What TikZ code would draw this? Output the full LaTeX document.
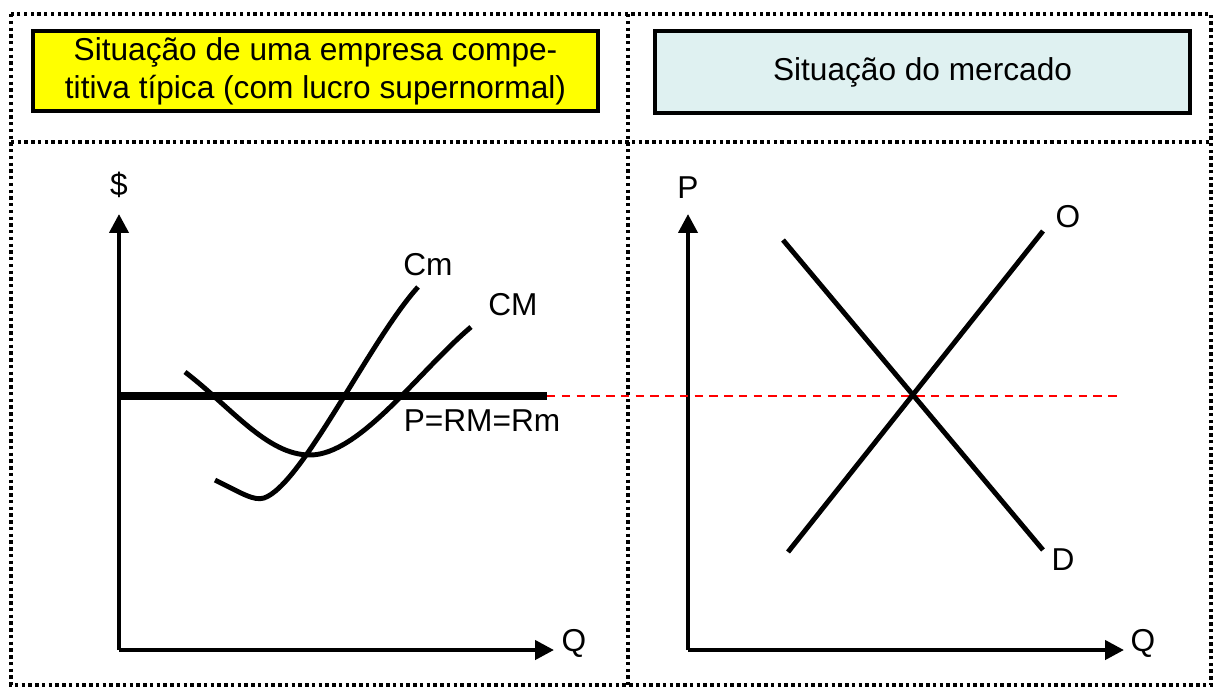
\documentclass[tikz,border=0pt]{standalone}
\usepackage{fontspec}
\setmainfont{Liberation Sans}
\usepackage{xcolor}
\usetikzlibrary{arrows.meta}

\definecolor{boxyellow}{RGB}{255,255,0}
\definecolor{boxcyan}{RGB}{223,241,241}

\begin{document}
\begin{tikzpicture}[x=0.025cm,y=-0.025cm,
    font=\fontsize{22.5}{27}\selectfont,
    panel/.style={line width=2.5pt,dash pattern=on 2.4pt off 2.4pt},
    titlebox/.style={draw,line width=3pt,align=center,inner sep=0pt},
    axis/.style={line width=3pt,-{Triangle[length=13.5pt,width=13.5pt]}},
    curve/.style={line width=3.5pt}]
  \useasboundingbox (0,0) rectangle (1222,687);

  % panels
  \draw[panel] (11,14) rectangle (1211,685);
  \draw[panel] (11,142) -- (1211,142);
  \draw[panel] (628,14) -- (628,685);

  % titles
  \node[titlebox,fill=boxyellow,minimum width=14.125cm,minimum height=2cm] (firm) at (315.5,71)
    {Situação de uma empresa compe-\\titiva típica (com lucro supernormal)};
  \node[titlebox,fill=boxcyan,minimum width=13.375cm,minimum height=2.05cm] (mkt) at (922.5,72)
    {Situação do mercado};

  % firm axes
  \coordinate (o1) at (119,650);
  \coordinate (y1) at (119,214);
  \coordinate (x1) at (554,650);
  \draw[axis] (o1) -- (y1);
  \draw[axis] (o1) -- (x1);
  \node (dollar) at (119,185) {\$};
  \node (q1) at (574,643) {Q};

  % market axes
  \coordinate (o2) at (688,650);
  \coordinate (y2) at (688,214);
  \coordinate (x2) at (1124,650);
  \draw[axis] (o2) -- (y2);
  \draw[axis] (o2) -- (x2);
  \node (p2) at (688,188) {P};
  \node (q2) at (1143,643) {Q};

  % price line
  \coordinate (pa) at (119,396);
  \coordinate (pb) at (547,396);
  \coordinate (pc) at (1118,396);
  \draw[line width=5pt] (pa) -- (pb);
  \draw[red,line width=1.8pt,dash pattern=on 6pt off 4.5pt] (pb) -- (pc);
  \node (price) at (482,421) {P=RM=Rm};

  % cost curves
  \coordinate (cma) at (185,372);
  \coordinate (cmmin) at (310,455);
  \coordinate (cmb) at (471,327);
  \draw[curve] (cma) .. controls (232,408) and (267,455) .. (cmmin)
    .. controls (360,455) and (420,370) .. (cmb);
  \node (cmlab) at (513,305) {CM};

  \coordinate (mca) at (215,480);
  \coordinate (mcmin) at (264,498);
  \coordinate (mcb) at (418,287);
  \draw[curve] (mca) .. controls (243,494) and (254,501) .. (mcmin)
    .. controls (302,485) and (370,340) .. (mcb);
  \node (mclab) at (428,265) {Cm};

  % supply and demand
  \coordinate (sa) at (788,552);
  \coordinate (sb) at (1043,231);
  \coordinate (da) at (783,240);
  \coordinate (db) at (1043,550);
  \draw[curve] (sa) -- (sb);
  \draw[curve] (da) -- (db);
  \node (olab) at (1068,217) {O};
  \node (dlab) at (1063,560) {D};
\end{tikzpicture}
\end{document}
